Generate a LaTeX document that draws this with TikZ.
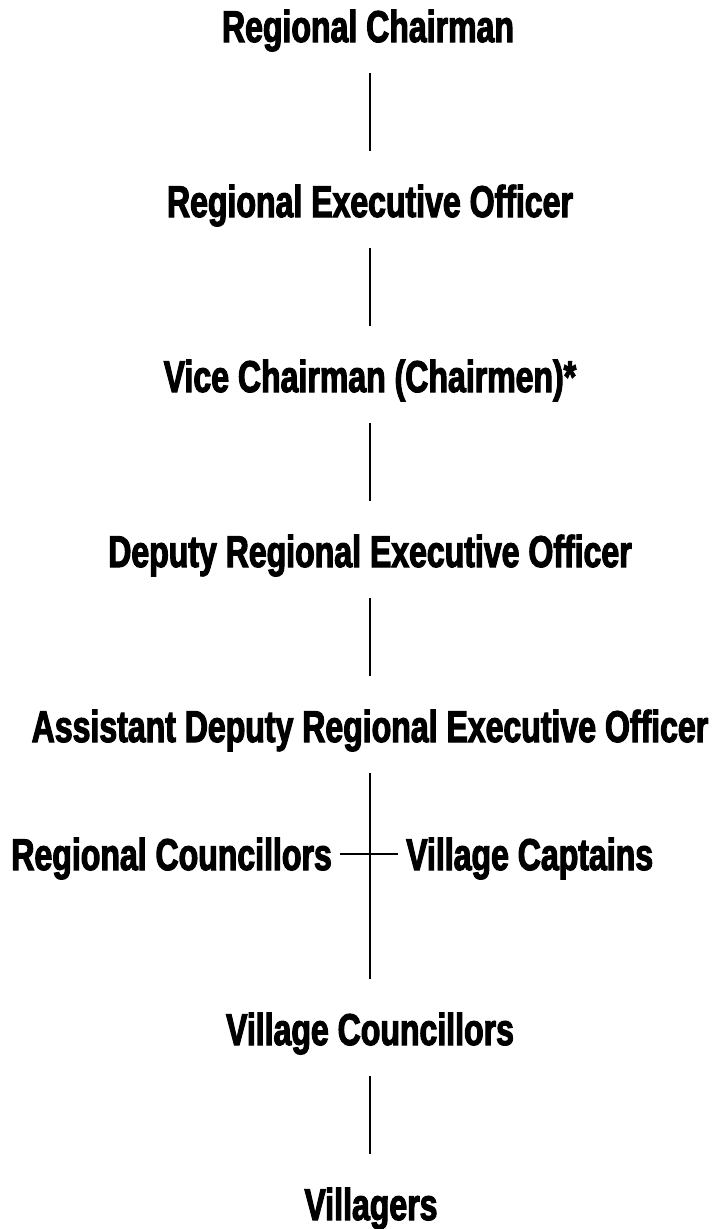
\documentclass[tikz,border=0pt]{standalone}
\usepackage{fontspec}
\setmainfont{Liberation Sans}[FakeStretch=0.72,BoldFeatures={FakeBold=2.5}]
\tikzset{every picture/.style={line width=2.4pt}}
\tikzset{
  rank/.style={inner sep=0pt, text height=32pt, text depth=0pt, font=\fontsize{44.5}{52}\selectfont\bfseries},
  link/.style={shorten <=30pt, shorten >=33pt},
  side/.style={shorten <=7pt, shorten >=7pt}
}
\begin{document}
\begin{tikzpicture}[x=1pt,y=1pt,yscale=-1,xscale=1]
\useasboundingbox (0,0) rectangle (722,1229);

% Text Node
\node [rank, anchor=base] (rchair) at (368,42) {Regional Chairman};
% Text Node
\node [rank, anchor=base] (reo) at (370,217) {Regional Executive Officer};
% Text Node
\node [rank, anchor=base] (vchair) at (370,392) {Vice Chairman (Chairmen)*};
% Text Node
\node [rank, anchor=base] (dreo) at (370,567) {Deputy Regional Executive Officer};
% Text Node
\node [rank, anchor=base] (adreo) at (370,742) {Assistant Deputy Regional Executive Officer};
% Text Node
\node [rank, anchor=base east] (rcoun) at (333,870) {Regional Councillors};
% Text Node
\node [rank, anchor=base west] (vcapt) at (405,870) {Village Captains};
% Text Node
\node [rank, anchor=base] (vcoun) at (370,1045) {Village Councillors};
% Text Node
\node [rank, anchor=base] (vill) at (371,1220) {Villagers};

%Straight Lines
\draw [link] (rchair.south -| adreo) -- (reo.north -| adreo);
\draw [link] (reo.south -| adreo) -- (vchair.north -| adreo);
\draw [link] (vchair.south -| adreo) -- (dreo.north -| adreo);
\draw [link] (dreo.south) -- (adreo.north);
\draw [link] (adreo.south) -- (vcoun.north -| adreo);
\draw [link] (vcoun.south -| adreo) -- (vill.north -| adreo);
%Straight Lines
\draw [side] (rcoun.east) -- (vcapt.west);
\end{tikzpicture}
\end{document}
